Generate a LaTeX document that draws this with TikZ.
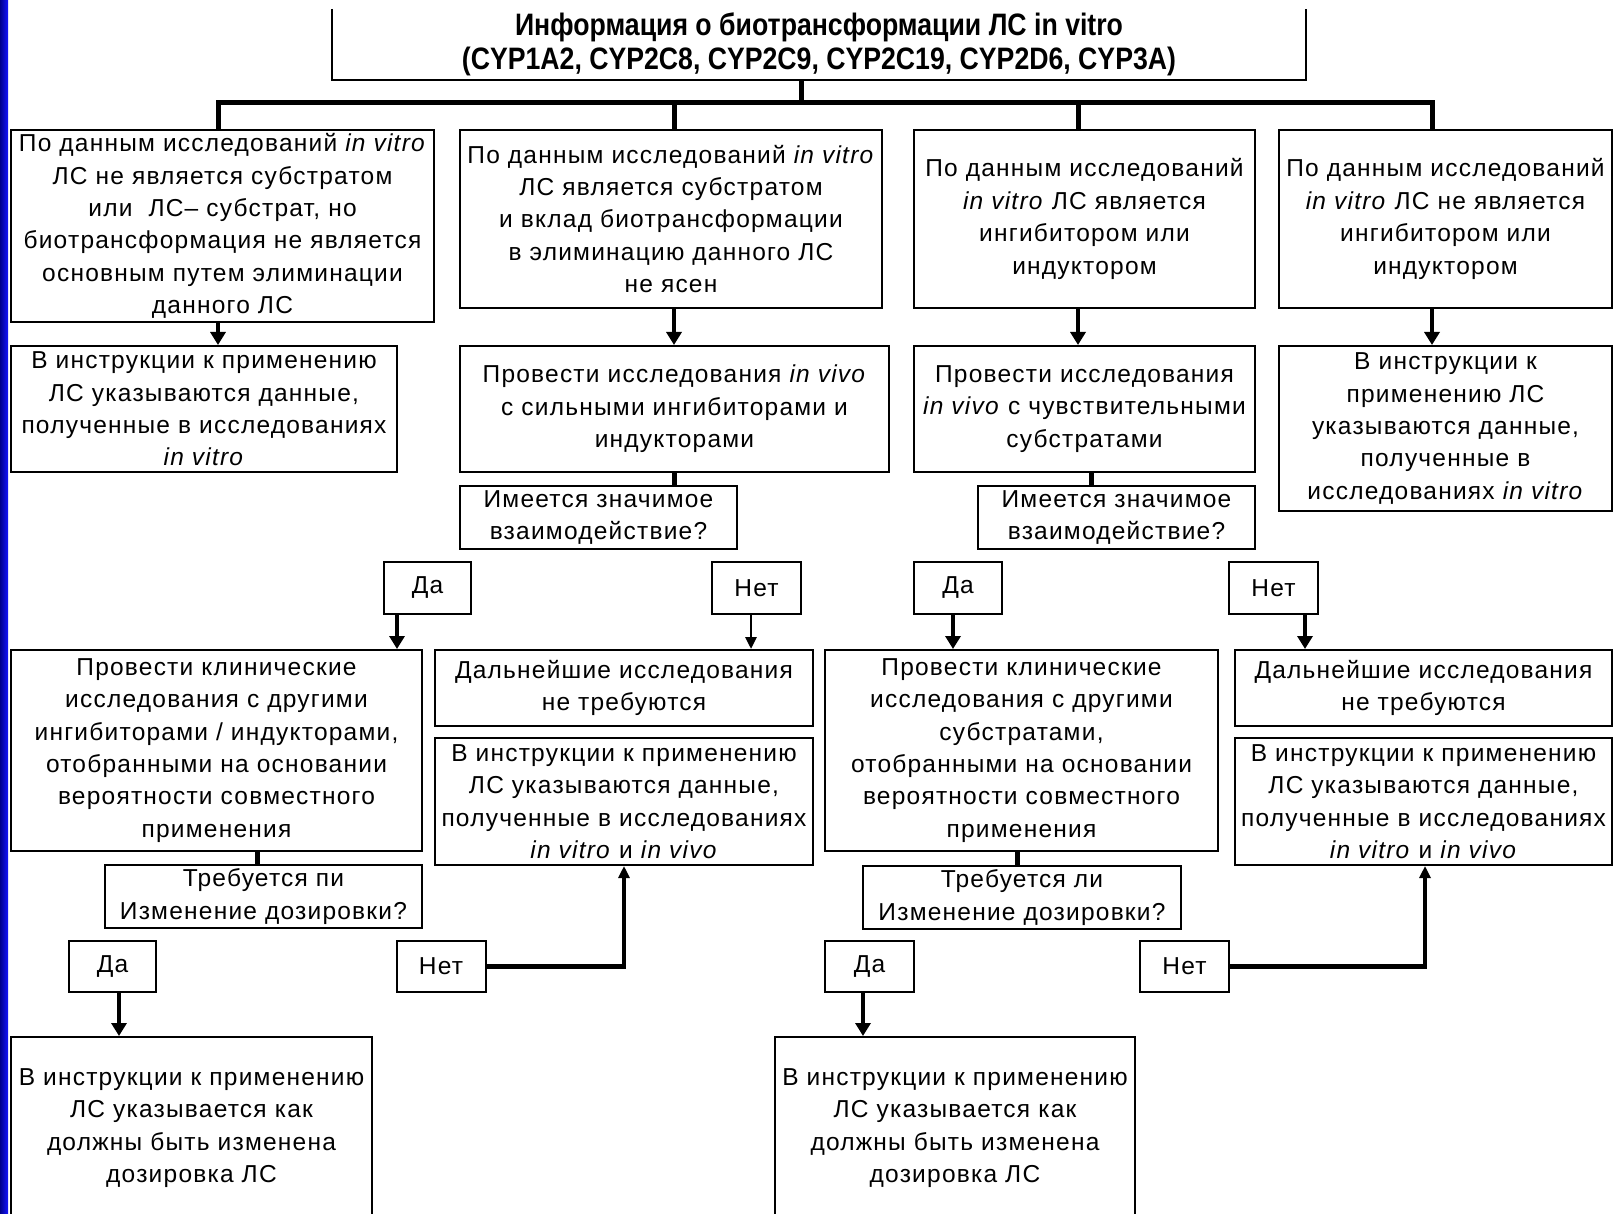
\documentclass[tikz,border=0pt]{standalone}
\usepackage{fontspec}
\setmainfont{Liberation Sans}[LetterSpace=5]
\newfontfamily\titlefont{Liberation Sans}[FakeStretch=0.86]
\usepackage{tikz}
\usetikzlibrary{arrows.meta}
\tikzset{
	box/.style={draw, line width=2pt, align=center, inner sep=0pt, font=\fontsize{24.5}{32.4}\selectfont},
	bus/.style={line width=5pt},
	link/.style={line width=4.6pt, -{Triangle[width=15pt,length=13pt]}},
	thinlink/.style={line width=2.8pt, -{Triangle[width=11pt,length=12pt]}},
	back/.style={line width=4.6pt, -{Triangle[width=11pt,length=12pt]}}
}

\begin{document}
\begin{tikzpicture}[x=1pt,y=-1pt]
	\useasboundingbox (0,0) rectangle (1614,1214);
	\clip (0,0) rectangle (1614,1214);
	\fill[white] (0,0) rectangle (1614,1214);
	\shade[left color=blue!55!black, right color=blue!92] (0,0) rectangle (8,1214);
	
	\node[box, draw=none, minimum width=972, minimum height=69, font=\titlefont\bfseries\fontsize{31}{34}\selectfont] (info) at (819,44.5) {Информация о биотрансформации ЛС in vitro\\(CYP1A2, CYP2C8, CYP2C9, CYP2C19, CYP2D6, CYP3A)};
	\draw[line width=1.5pt] (info.north west) -- (info.south west) -- (info.south east) -- (info.north east);
	
	\node[box, minimum width=423, minimum height=192] (nosub) at (222.5,226) {По данным исследований \textit{in vitro}\\ЛС не является субстратом\\или \ ЛС– субстрат, но\\биотрансформация не является\\основным путем элиминации\\данного ЛС};
	\node[box, minimum width=422, minimum height=178] (unclear) at (671,219) {По данным исследований \textit{in vitro}\\ЛС является субстратом\\и вклад биотрансформации\\в элиминацию данного ЛС\\не ясен};
	\node[box, minimum width=341, minimum height=178] (inh) at (1084.5,219) {По данным исследований\\\textit{in vitro} ЛС является\\ингибитором или\\индуктором};
	\node[box, minimum width=333, minimum height=178] (noinh) at (1445.5,219) {По данным исследований\\\textit{in vitro} ЛС не является\\ингибитором или\\индуктором};
	
	\node[box, minimum width=386, minimum height=126] (labA) at (204,409) {В инструкции к применению\\ЛС указываются данные,\\полученные в исследованиях\\\textit{in vitro}};
	\node[box, minimum width=429, minimum height=126] (vivoA) at (674.5,409) {Провести исследования \textit{in vivo}\\с сильными ингибиторами и\\индукторами};
	\node[box, minimum width=341, minimum height=126] (vivoB) at (1084.5,409) {Провести исследования\\\textit{in vivo} с чувствительными\\субстратами};
	\node[box, minimum width=333, minimum height=165] (labB) at (1445.5,428.5) {В инструкции к\\применению ЛС\\указываются данные,\\полученные в\\исследованиях \textit{in vitro}};
	
	\node[box, minimum width=277, minimum height=63] (askA) at (598.5,517.5) {Имеется значимое\\взаимодействие?};
	\node[box, minimum width=277, minimum height=63] (askB) at (1116.5,517.5) {Имеется значимое\\взаимодействие?};
	
	\node[box, minimum width=87, minimum height=52] (yesA) at (427.5,588) {Да};
	\node[box, minimum width=89, minimum height=52] (noA) at (756.5,588) {Нет};
	\node[box, minimum width=88, minimum height=52] (yesB) at (958,588) {Да};
	\node[box, minimum width=89, minimum height=52] (noB) at (1273.5,588) {Нет};
	
	\node[box, minimum width=411, minimum height=201] (clinA) at (216.5,750.5) {Провести клинические\\исследования с другими\\ингибиторами / индукторами,\\отобранными на основании\\вероятности совместного\\применения};
	\node[box, minimum width=378, minimum height=76] (stopA) at (624,688) {Дальнейшие исследования\\не требуются};
	\node[box, minimum width=378, minimum height=127] (labC) at (624,801.5) {В инструкции к применению\\ЛС указываются данные,\\полученные в исследованиях\\\textit{in vitro} и \textit{in vivo}};
	\node[box, minimum width=393, minimum height=201] (clinB) at (1021.5,750.5) {Провести клинические\\исследования с другими\\субстратами,\\отобранными на основании\\вероятности совместного\\применения};
	\node[box, minimum width=377, minimum height=76] (stopB) at (1423.5,688) {Дальнейшие исследования\\не требуются};
	\node[box, minimum width=377, minimum height=127] (labD) at (1423.5,801.5) {В инструкции к применению\\ЛС указываются данные,\\полученные в исследованиях\\\textit{in vitro} и \textit{in vivo}};
	
	\node[box, minimum width=317, minimum height=63] (doseA) at (263.5,896.5) {Требуется пи\\Изменение дозировки?};
	\node[box, minimum width=318, minimum height=63] (doseB) at (1022,897.5) {Требуется ли\\Изменение дозировки?};
	
	\node[box, minimum width=87, minimum height=51] (yesC) at (112.5,966.5) {Да};
	\node[box, minimum width=89, minimum height=51] (noC) at (441,966.5) {Нет};
	\node[box, minimum width=89, minimum height=51] (yesD) at (869.5,966.5) {Да};
	\node[box, minimum width=89, minimum height=51] (noD) at (1184.5,966.5) {Нет};
	
	\node[box, minimum width=361, minimum height=182] (adjA) at (191.5,1128) {В инструкции к применению\\ЛС указывается как\\должны быть изменена\\дозировка ЛС};
	\node[box, minimum width=360, minimum height=182] (adjB) at (955,1128) {В инструкции к применению\\ЛС указывается как\\должны быть изменена\\дозировка ЛС};
	
	\coordinate (J) at (801,103);
	\coordinate (d1) at (218,103);
	\coordinate (d2) at (674,103);
	\coordinate (d3) at (1078,103);
	\coordinate (d4) at (1432,103);
	\coordinate (qb) at (1091,0);
	\coordinate (qc) at (257,0);
	\coordinate (qd) at (1017,0);
	\coordinate (ya) at (397,0);
	\coordinate (na) at (751,0);
	\coordinate (yb) at (953,0);
	\coordinate (nb) at (1305,0);
	\coordinate (yc) at (119,0);
	\coordinate (yd) at (863,0);
	\coordinate (ra) at (624,0);
	\coordinate (rb) at (1425,0);
	
	\draw[bus] (info.south -| J) -- (J);
	\draw[bus] (nosub.north -| d1) -- (d1) -- (d4) -- (noinh.north -| d4);
	\draw[bus] (d2) -- (unclear.north -| d2);
	\draw[bus] (d3) -- (inh.north -| d3);
	
	\draw[link] (nosub.south -| d1) -- (labA.north -| d1);
	\draw[link] (unclear.south -| d2) -- (vivoA.north -| d2);
	\draw[link] (inh.south -| d3) -- (vivoB.north -| d3);
	\draw[link] (noinh.south -| d4) -- (labB.north -| d4);
	
	\draw[bus] (vivoA.south -| d2) -- (askA.north -| d2);
	\draw[bus] (vivoB.south -| qb) -- (askB.north -| qb);
	
	\draw[link] (yesA.south -| ya) -- (clinA.north -| ya);
	\draw[thinlink] (noA.south -| na) -- (stopA.north -| na);
	\draw[link] (yesB.south -| yb) -- (clinB.north -| yb);
	\draw[link] (noB.south -| nb) -- (stopB.north -| nb);
	
	\draw[bus] (clinA.south -| qc) -- (doseA.north -| qc);
	\draw[bus] (clinB.south -| qd) -- (doseB.north -| qd);
	
	\draw[link] (yesC.south -| yc) -- (adjA.north -| yc);
	\draw[link] (yesD.south -| yd) -- (adjB.north -| yd);
	\draw[back] (noC.east) -| (labC.south -| ra);
	\draw[back] (noD.east) -| (labD.south -| rb);
\end{tikzpicture}
\end{document}
